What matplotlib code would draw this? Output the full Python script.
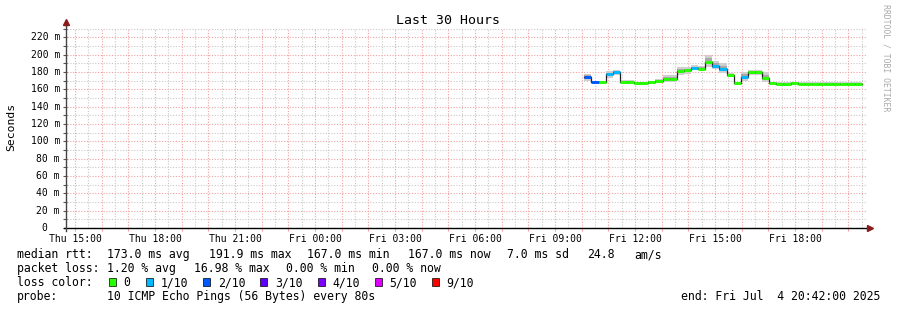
import numpy as np
import matplotlib
matplotlib.use("Agg")
import matplotlib.pyplot as plt

# graph window: Thu 14:42 -> Fri 20:42 (30 hours), x in hours after start
start_hour = 14.7
span_hours = 30

tick_labels = ["Thu 15:00", "Thu 18:00", "Thu 21:00", "Fri 00:00", "Fri 03:00",
               "Fri 06:00", "Fri 09:00", "Fri 12:00", "Fri 15:00", "Fri 18:00"]

y_labels = [0, 20, 40, 60, 80, 100, 120, 140, 160, 180, 200, 220]

# step start times (Fri), last entry is the end of the data
step_times = ["10:06", "10:22", "10:38", "10:54", "11:10", "11:26", "11:42", "11:58",
              "12:14", "12:30", "12:46", "13:02", "13:18", "13:34", "13:50", "14:06",
              "14:22", "14:38", "14:54", "15:10", "15:26", "15:42", "15:58", "16:14",
              "16:30", "16:46", "17:02", "17:18", "17:34", "17:50", "18:06", "18:22",
              "18:38", "18:54", "19:10", "19:26", "19:42", "19:58", "20:14", "20:30"]

# median rtt in ms
median = [174.3, 168.5, 168.5, 177.8, 180.0, 168.5, 168.5, 167.4, 167.4, 168.5,
          169.7, 172.4, 172.4, 181.3, 182.0, 184.7, 184.0, 191.6, 187.0, 184.0,
          177.0, 167.4, 174.3, 179.7, 179.7, 173.6, 167.8, 166.7, 166.7, 167.4,
          166.7, 166.7, 166.7, 166.7, 166.7, 166.7, 166.7, 166.7, 166.7]
# loss index into loss_colors
loss = [2, 2, 0, 1, 1, 0, 0, 0, 0, 0,
        0, 0, 0, 0, 0, 1, 0, 0, 1, 1,
        0, 0, 1, 0, 0, 0, 0, 0, 0, 0,
        0, 0, 0, 0, 0, 0, 0, 0, 0]
# smoke (ping spread) in ms
smoke_lo = [170, 167, 167, 173, 176, 167, 167, 166, 166, 167,
            167, 168, 169, 176, 178, 182, 182, 186, 183, 179,
            174, 166, 170, 176, 176, 168, 166, 165.5, 165.5, 166,
            165.5, 165.5, 165.5, 165.5, 165.5, 165.5, 165.5, 165.5, 165.5]
smoke_hi = [178, 170, 170, 181, 182, 171, 171, 169, 169, 170,
            172, 176, 177, 186, 186, 188, 187, 200, 193, 190,
            179, 169, 180, 182, 182, 180, 169, 168, 168, 168.5,
            168, 168, 168, 168, 168, 168, 168, 168, 168]

loss_names = ["0", "1/10", "2/10", "3/10", "4/10", "5/10", "9/10"]
loss_colors = ["#26ff00", "#00b8ff", "#0059ff", "#5e00ff", "#7e00ff", "#dd00ff", "#ff0000"]

W, H = 897, 310
mono = "DejaVu Sans Mono"


def fx(px):
    return px / W


def fy(py):
    return 1 - py / H


def to_hours(day, hhmm):
    h, m = hhmm.split(":")
    return day * 24 + int(h) + int(m) / 60 - start_hour


fig = plt.figure(figsize=(W / 100, H / 100), dpi=100)
ax = fig.add_axes([fx(67), fy(228), 800 / W, 200 / H])
ax.set_xlim(0, span_hours)
ax.set_ylim(0, 230.8)

# grid
hours = np.arange(0.3, span_hours, 1.0)
halves = np.arange(0.8, span_hours, 1.0)
red = "#f2a0a0"
grey = "#c8c8c8"
dots = (0, (1.0, 1.5))
for h in halves:
    ax.axvline(h, color=grey, lw=0.8, ls=dots, zorder=1)
for v in range(10, 231, 20):
    ax.axhline(v, color=grey, lw=0.8, ls=dots, zorder=1)
for h in hours:
    ax.axvline(h, color=red, lw=0.8, ls=dots, zorder=1)
for v in y_labels[1:]:
    ax.axhline(v, color=red, lw=0.8, ls=dots, zorder=1)

# x ticks
tick_pos = []
for lab in tick_labels:
    day = 0 if lab.startswith("Thu") else 1
    tick_pos.append(to_hours(day, lab[4:]))
ax.set_xticks(hours)
ax.set_xticklabels(["" for _ in hours])
ax.tick_params(axis="x", which="major", length=2.2, width=0.8, color=red)
for p, lab in zip(tick_pos, tick_labels):
    ax.text(p, -0.03, lab, transform=ax.get_xaxis_transform(), ha="center", va="top",
            family=mono, fontsize=7)

# y ticks
ax.set_yticks(np.arange(0, 231, 10))
ax.set_yticklabels([])
ax.tick_params(axis="y", length=3, width=0.8, color="#555555")
for v in y_labels:
    lab = "0" if v == 0 else f"{v} m"
    off = -20 if v == 0 else -7
    ax.text(off / 800, v, lab, transform=ax.get_yaxis_transform(), ha="right", va="center",
            family=mono, fontsize=7)

for s in ax.spines.values():
    s.set_visible(False)

# axis lines and arrows
ax.plot([-0.004, 1.0], [0, 0], transform=ax.transAxes, color="black", lw=1.0, clip_on=False, zorder=5)
ax.plot([-0.001, -0.001], [-0.015, 1.02], transform=ax.transAxes, color="#444444", lw=1.0,
        clip_on=False, zorder=5)
ax.plot([1.004], [0], marker=">", transform=ax.transAxes, color="#8b1a1a", ms=4.5, clip_on=False,
        zorder=6)
ax.plot([-0.001], [1.03], marker="^", transform=ax.transAxes, color="#8b1a1a", ms=4.5, clip_on=False,
        zorder=6)

# data
t = np.array([to_hours(1, s) for s in step_times])
lo = np.array(smoke_lo)
hi = np.array(smoke_hi)
med = np.array(median)
ax.fill_between(t, np.append(lo, lo[-1]), np.append(hi, hi[-1]), step="post",
                color="#cfcfcf", lw=0, zorder=2)
in_lo = lo + (med - lo) * 0.5
in_hi = hi - (hi - med) * 0.5
ax.fill_between(t, np.append(in_lo, in_lo[-1]), np.append(in_hi, in_hi[-1]), step="post",
                color="#a8a8a8", lw=0, zorder=2)
ax.step(t, np.append(med, med[-1]), where="post", color="#202020", lw=0.9, zorder=3)
for i in range(len(median)):
    ax.plot([t[i], t[i + 1]], [median[i], median[i]], color=loss_colors[loss[i]],
            lw=2.1, solid_capstyle="butt", zorder=4)

# title and labels
fig.text(fx(448), fy(24), "Last 30 Hours", ha="center", va="baseline", family=mono, fontsize=9.5)
fig.text(fx(11), fy(127), "Seconds", ha="center", va="center", rotation=90, family=mono,
         fontsize=8.2)
fig.text(fx(886), fy(4), "RRDTOOL / TOBI OETIKER", ha="center", va="top", rotation=270,
         family=mono, fontsize=5.9, color="#aaaaaa")

# legend
fs = 8.3
line1 = [(16.7, "median rtt:"), (107.3, "173.0 ms avg"), (209.3, "191.9 ms max"),
         (307.3, "167.0 ms min"), (408.3, "167.0 ms now"), (506.7, "7.0 ms sd"),
         (586.7, "24.8"), (634.3, "am/s")]
line2 = [(16.7, "packet loss:"), (107.3, "1.20 % avg"), (194.0, "16.98 % max"),
         (285.7, "0.00 % min"), (372.3, "0.00 % now")]
for x, s in line1:
    fig.text(fx(x), fy(258), s, ha="left", va="baseline", family=mono, fontsize=fs)
for x, s in line2:
    fig.text(fx(x), fy(272), s, ha="left", va="baseline", family=mono, fontsize=fs)

fig.text(fx(16.7), fy(286), "loss color:", ha="left", va="baseline", family=mono, fontsize=fs)
box_x = [109, 146, 203.2, 260.4, 317.6, 374.8, 432]
for bx, name, col in zip(box_x, loss_names, loss_colors):
    fig.patches.append(plt.Rectangle((fx(bx), fy(286)), 7 / W, 8 / H, transform=fig.transFigure,
                                     facecolor=col, edgecolor="black", lw=0.5))
    fig.text(fx(bx + 14.5), fy(286), name, ha="left", va="baseline", family=mono, fontsize=fs)

fig.text(fx(16.7), fy(300), "probe:", ha="left", va="baseline", family=mono, fontsize=fs)
fig.text(fx(107.3), fy(300), "10 ICMP Echo Pings (56 Bytes) every 80s", ha="left", va="baseline",
         family=mono, fontsize=fs)
fig.text(fx(880), fy(300), "end: Fri Jul  4 20:42:00 2025", ha="right", va="baseline",
         family=mono, fontsize=fs)

fig.savefig("out.png", dpi=100, facecolor="white")
